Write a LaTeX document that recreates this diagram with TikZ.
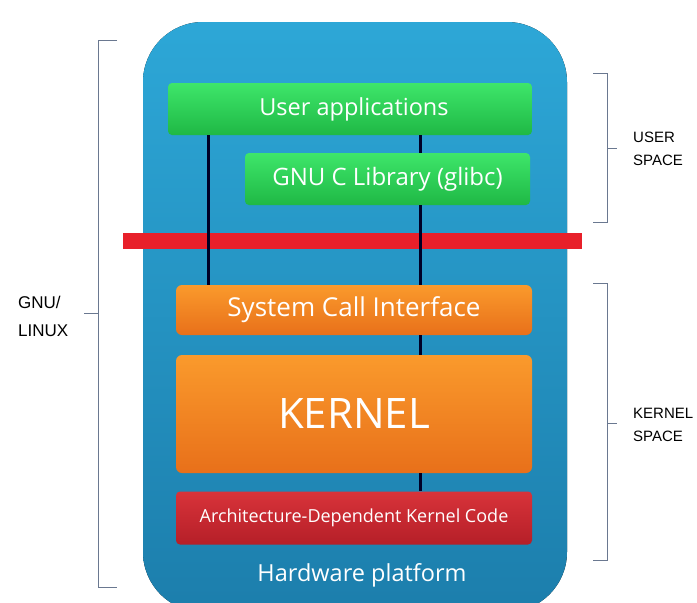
\documentclass[tikz,border=0pt]{standalone}
\usepackage{fontspec}
\setmainfont{Open Sans}
\newfontfamily\sidefont{Liberation Sans}
\usepackage{tikz}
\usetikzlibrary{shapes,arrows}
\definecolor{hwblue}{HTML}{2DA7D7}
\definecolor{hwdark}{HTML}{1C7EAC}
\definecolor{grtop}{HTML}{3EE66A}
\definecolor{grbot}{HTML}{1FB845}
\definecolor{ortop}{HTML}{FA9A2C}
\definecolor{orbot}{HTML}{E8701A}
\definecolor{rdtop}{HTML}{D8333A}
\definecolor{rdbot}{HTML}{B51F28}
\definecolor{barred}{HTML}{E8202A}
\definecolor{bracegray}{HTML}{6A7890}
\tikzstyle{userbox} = [rectangle,rounded corners=4pt,inner sep=0pt,minimum height=52pt,text centered,text=white,top color=grtop,bottom color=grbot]
\tikzstyle{kernbox} = [rectangle,rounded corners=6pt,inner sep=0pt,minimum width=356pt,text centered,text=white,top color=ortop,bottom color=orbot]
\tikzstyle{archbox} = [rectangle,rounded corners=4pt,inner sep=0pt,minimum width=356pt,minimum height=53pt,text centered,text=white,top color=rdtop,bottom color=rdbot,font=\fontsize{18}{21}\selectfont]
\tikzstyle{link} = [line width=3pt,draw=black!85!blue]
\tikzstyle{brace} = [line width=1pt,draw=bracegray]
\tikzstyle{side} = [align=left,anchor=west,inner sep=0pt,font=\sidefont\fontsize{15}{23}\selectfont]

\begin{document}
\begin{tikzpicture}[x=1pt,y=-1pt,node distance=104pt]
\useasboundingbox (0,0) rectangle (697,603);
\fill[top color=hwblue,bottom color=hwdark,rounded corners=60pt] (143,22) rectangle (567,612);
\fill[barred] (123,233) rectangle (582,249);

\node (ua) [userbox,minimum width=364pt,font=\fontsize{23.5}{27}\selectfont] at (350,109) {\hspace{8pt}User applications};
\node (glibc) [userbox,minimum width=285pt,below of=ua,xshift=37.5pt,yshift=34pt,font=\fontsize{24}{27}\selectfont] {GNU C Library (glibc)};
\node (sci) [kernbox,minimum height=50pt,font=\fontsize{26}{29}\selectfont] at (354,310) {System Call Interface};
\node (kernel) [kernbox,minimum height=118pt,below of=sci,font=\fontsize{42}{46}\selectfont] {KERNEL};
\node (arch) [archbox,below of=kernel] {Architecture-Dependent Kernel Code};
\node (hw) [below of=arch,xshift=8pt,yshift=47pt,text=white,font=\fontsize{23.5}{27}\selectfont] {Hardware platform};

\coordinate (xl) at (208,0);
\coordinate (xr) at (420,0);
\draw [link] (ua.south -| xl) -- (sci.north -| xl);
\draw [link] (ua.south -| xr) -- (glibc.north -| xr);
\draw [link] (glibc.south -| xr) -- (sci.north -| xr);
\draw [link] (sci.south -| xr) -- (kernel.north -| xr);
\draw [link] (kernel.south -| xr) -- (arch.north -| xr);

\draw [brace] (117,40) -- (98,40) -- (98,587) -- (117,587);
\draw [brace] (98,313) -- (84,313);
\draw [brace] (593,73) -- (607,73) -- (607,222) -- (593,222);
\draw [brace] (607,148) -- (617,148);
\draw [brace] (593,283) -- (607,283) -- (607,560) -- (593,560);
\draw [brace] (607,423) -- (617,423);

\node (gnu) [side,font=\sidefont\fontsize{17}{28}\selectfont] at (18,316) {GNU/\\LINUX};
\node (user) [side] at (633,149) {USER\\SPACE};
\node (kspace) [side] at (633,425) {KERNEL\\SPACE};
\end{tikzpicture}
\end{document}
